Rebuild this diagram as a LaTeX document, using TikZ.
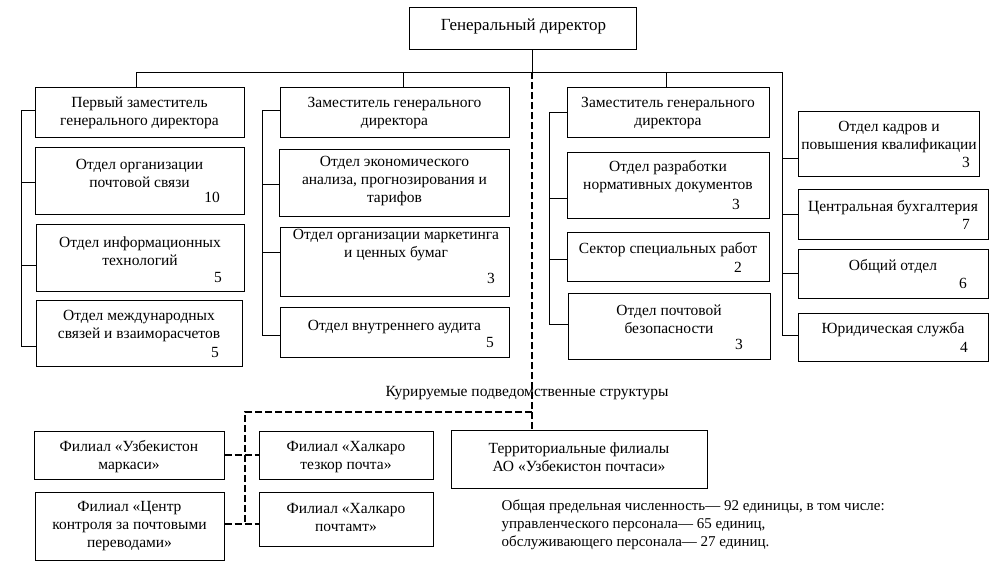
\documentclass[tikz,border=0pt]{standalone}
\usepackage{fontspec}
\setmainfont{Liberation Serif}
\begin{document}
\begin{tikzpicture}[x=1pt,y=-1pt,
  box/.style 2 args={draw,line width=1pt,minimum width=#1pt,minimum height=#2pt,inner sep=0pt},
  txt/.style={align=center,inner sep=0pt,font=\fontsize{15.5}{18}\selectfont},
  num/.style={anchor=east,inner sep=0pt,font=\fontsize{15.5}{18}\selectfont},
  conn/.style={line width=1pt},
  dsh/.style={line width=2pt,dash pattern=on 7pt off 3pt}]
\useasboundingbox (0,0) rectangle (1007,584);

% boxes
\node[box={227}{42}] (gd) at (522.5,28) {};
\node[box={209}{50}] (p1) at (139.5,112) {};
\node[box={209}{67}] (p2) at (139.5,180.5) {};
\node[box={208}{67}] (p3) at (140,257.5) {};
\node[box={206}{66}] (p4) at (139,333) {};
\node[box={229}{50}] (m1) at (394.5,112) {};
\node[box={230}{67}] (m2) at (394,182.5) {};
\node[box={229}{69}] (m3) at (394.5,261.5) {};
\node[box={229}{50}] (m4) at (394.5,332) {};
\node[box={202}{50}] (r1) at (668,112) {};
\node[box={202}{66}] (r2) at (668,185) {};
\node[box={202}{49}] (r3) at (668,256.5) {};
\node[box={202}{66}] (r4) at (669,326) {};
\node[box={181}{65}] (f1) at (888.5,143.5) {};
\node[box={190}{50}] (f2) at (893,214) {};
\node[box={190}{49}] (f3) at (893,273.5) {};
\node[box={190}{48}] (f4) at (893,337) {};
\node[box={190}{48}] (b1) at (129,455) {};
\node[box={189}{68}] (b2) at (129.5,526) {};
\node[box={174}{48}] (b3) at (346,455) {};
\node[box={174}{54}] (b4) at (346,519) {};
\node[box={256}{58}] (b5) at (579,459) {};

% texts
\node[txt,font=\fontsize{17}{20}\selectfont] (tgd) at (523.5,26.5) {Генеральный директор};
\node[txt] (tp1) at (139.5,113) {Первый заместитель\\генерального директора};
\node[txt] (tp2) at (139.5,173.5) {Отдел организации\\почтовой связи};
\node[txt] (tp3) at (140,251.5) {Отдел информационных\\технологий};
\node[txt] (tp4) at (139,326) {Отдел международных\\связей и взаиморасчетов};
\node[txt] (tm1) at (394.5,113) {Заместитель генерального\\директора};
\node[txt] (tm2) at (394.5,181) {Отдел экономического\\анализа, прогнозирования и\\тарифов};
\node[txt] (tm3) at (396,245) {Отдел организации маркетинга\\и ценных бумаг};
\node[txt] (tm4) at (394.5,326.7) {Отдел внутреннего аудита};
\node[txt] (tr1) at (668,113) {Заместитель генерального\\директора};
\node[txt] (tr2) at (668,177) {Отдел разработки\\нормативных документов};
\node[txt] (tr3) at (668,249.3) {Сектор специальных работ};
\node[txt] (tr4) at (669,319) {Отдел почтовой\\безопасности};
\node[txt] (tf1) at (889,137) {Отдел кадров и\\повышения квалификации};
\node[txt] (tf2) at (893,207.3) {Центральная бухгалтерия};
\node[txt] (tf3) at (893,266.7) {Общий отдел};
\node[txt] (tf4) at (893,330) {Юридическая служба};
\node[txt] (tb1) at (129,457) {Филиал «Узбекистон\\маркаси»};
\node[txt] (tb2) at (129.5,526) {Филиал «Центр\\контроля за почтовыми\\переводами»};
\node[txt] (tb3) at (346,457) {Филиал «Халкаро\\тезкор почта»};
\node[txt] (tb4) at (346,517.5) {Филиал «Халкаро\\почтамт»};
\node[txt] (tb5) at (579,457) {Территориальные филиалы\\АО «Узбекистон почтаси»};
\node[txt] (tkur) at (527,393) {Курируемые подведомственные структуры};
\node[txt,align=left,anchor=west,font=\fontsize{15}{18}\selectfont] (tnote) at (501.5,525) {Общая предельная численность— 92 единицы, в том числе:\\управленческого персонала— 65 единиц,\\обслуживающего персонала— 27 единиц.};

% numbers
\node[num] (n1) at (220,197) {10};
\node[num] (n2) at (222,277) {5};
\node[num] (n3) at (219,352) {5};
\node[num] (n4) at (495,278) {3};
\node[num] (n5) at (494,342) {5};
\node[num] (n6) at (740,204) {3};
\node[num] (n7) at (742,267.7) {2};
\node[num] (n8) at (743,344) {3};
\node[num] (n9) at (970,162) {3};
\node[num] (n10) at (970,224) {7};
\node[num] (n11) at (967,283) {6};
\node[num] (n12) at (968,347) {4};

% connection points
\coordinate (dx) at (532,72);
\coordinate (busL) at (136,72);
\coordinate (busM) at (403,72);
\coordinate (busR1) at (666,72);
\coordinate (busR) at (782,72);
\coordinate (lb) at (21,0);
\coordinate (mb) at (262,0);
\coordinate (rb) at (549,0);
\coordinate (p1c) at ([yshift=2pt]p1.west);
\coordinate (p2c) at ([yshift=-2pt]p2.west);
\coordinate (p3c) at ([yshift=-8pt]p3.west);
\coordinate (p4c) at ([yshift=-13pt]p4.west);
\coordinate (m1c) at ([yshift=2pt]m1.west);
\coordinate (m2c) at ([yshift=-1.5pt]m2.west);
\coordinate (m3c) at ([yshift=9pt]m3.west);
\coordinate (m4c) at ([yshift=-3pt]m4.west);
\coordinate (r1c) at (r1.west);
\coordinate (r2c) at ([yshift=-13pt]r2.west);
\coordinate (r3c) at ([yshift=-3pt]r3.west);
\coordinate (r4c) at ([yshift=2pt]r4.west);
\coordinate (f1c) at ([yshift=-15pt]f1.west);
\coordinate (f2c) at (f2.west);
\coordinate (f3c) at (f3.west);
\coordinate (f4c) at ([yshift=2pt]f4.west);
\coordinate (dk) at (245,412);
\coordinate (b2c) at ([yshift=2pt]b2.east);
\coordinate (b4c) at ([yshift=-5pt]b4.west);

% solid connectors
\draw[conn] (gd.south -| dx) -- (dx);
\draw[conn] (busL) -- (busR);
\draw[conn] (busL) -- (busL |- p1.north);
\draw[conn] (busM) -- (busM |- m1.north);
\draw[conn] (busR1) -- (busR1 |- r1.north);
\draw[conn] (busR) -- (busR |- f4c) -- (f4c);
\foreach \c in {f1c,f2c,f3c} \draw[conn] (busR |- \c) -- (\c);
\draw[conn] (p1c) -- (p1c -| lb) -- (p4c -| lb) -- (p4c);
\foreach \c in {p2c,p3c} \draw[conn] (\c -| lb) -- (\c);
\draw[conn] (m1c) -- (m1c -| mb) -- (m4c -| mb) -- (m4c);
\foreach \c in {m2c,m3c} \draw[conn] (\c -| mb) -- (\c);
\draw[conn] (r1c) -- (r1c -| rb) -- (r4c -| rb) -- (r4c);
\foreach \c in {r2c,r3c} \draw[conn] (\c -| rb) -- (\c);

% dashed connectors
\draw[dsh] (dx) -- (dx |- b5.north);
\draw[dsh] (dx |- dk) -- (dk) -- (dk |- b2c);
\draw[dsh] (b1.east) -- (b3.west);
\draw[dsh] (b2c) -- (b4c);
\end{tikzpicture}
\end{document}
